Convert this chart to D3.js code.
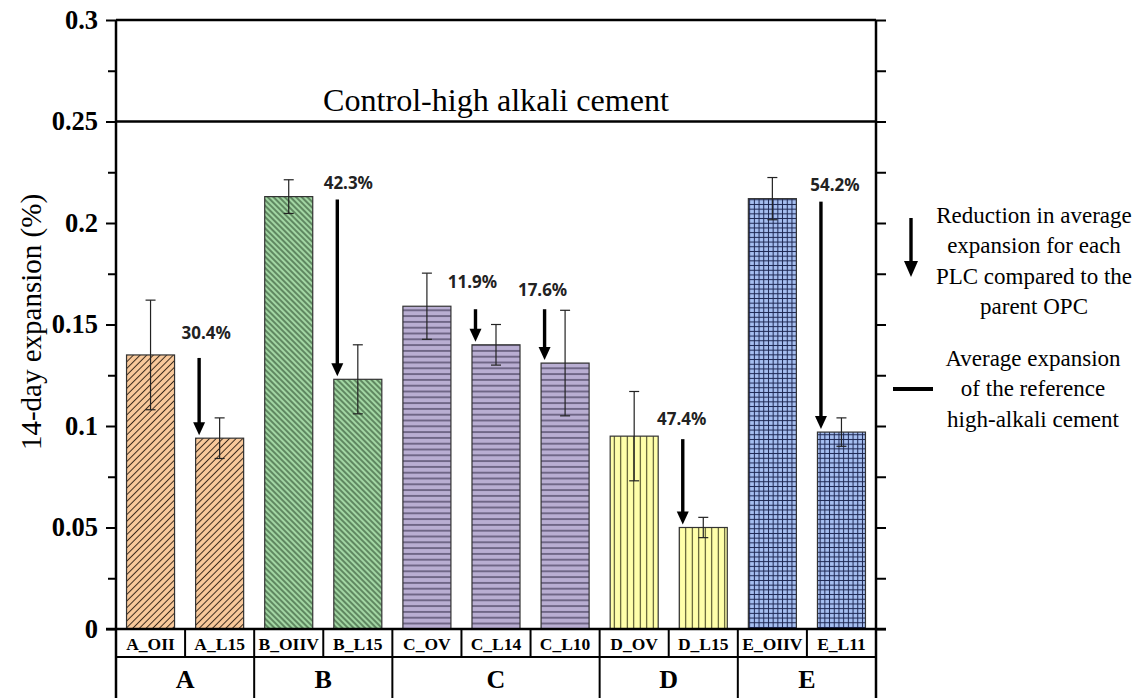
<!DOCTYPE html>
<html>
<head>
<meta charset="utf-8">
<script src="https://cdn.jsdelivr.net/npm/d3@7"></script>
<style>
  body { margin: 0; background: #fff; }
  svg { display: block; }
  svg text { font-family: 'Liberation Serif', 'DejaVu Serif', serif; }
  svg text.pct { font-family: 'Noto Sans', 'DejaVu Sans', sans-serif; }
</style>
</head>
<body>
<div id="chart"></div>
<script>
"use strict";

// data
const samples = ['A_OII', 'A_L15', 'B_OIIV', 'B_L15', 'C_OV', 'C_L14', 'C_L10', 'D_OV', 'D_L15', 'E_OIIV', 'E_L11'];
const groupOf = ['A', 'A', 'B', 'B', 'C', 'C', 'C', 'D', 'D', 'E', 'E'];
const groups = ['A', 'B', 'C', 'D', 'E'];
const means = [0.135, 0.094, 0.213, 0.123, 0.159, 0.140, 0.131, 0.095, 0.050, 0.212, 0.097];
const errors = [0.027, 0.010, 0.0083, 0.017, 0.0163, 0.010, 0.026, 0.022, 0.005, 0.0104, 0.007];
const controlValue = 0.25;
const controlLabel = 'Control-high alkali cement';
const yTicks = [0, 0.05, 0.1, 0.15, 0.2, 0.25, 0.3];
const yTickLabels = ['0', '0.05', '0.1', '0.15', '0.2', '0.25', '0.3'];
const yMinorTicks = [0.025, 0.075, 0.125, 0.175, 0.225, 0.275];
const reductionFrom = ['A_OII', 'B_OIIV', 'C_OV', 'C_OV', 'D_OV', 'E_OIIV'];
const reductionTo = ['A_L15', 'B_L15', 'C_L14', 'C_L10', 'D_L15', 'E_L11'];
const reductionLabels = ['30.4%', '42.3%', '11.9%', '17.6%', '47.4%', '54.2%'];
const legendArrowText = ['Reduction in average', 'expansion for each', 'PLC compared to the', 'parent OPC'];
const legendLineText = ['Average expansion', 'of the reference', 'high-alkali cement'];

// layout
const W = 1146, H = 698;
const plotLeft = 116, plotRight = 876, plotTop = 20, zeroY = 629, rowY = 657;
// label nudges relative to each arrow [dx, dy]
const labelNudge = [[7, -25], [11, -17], [-3, -28], [-2, -20], [-1, -21], [14, -17]];

const fills = { A: '#f9c99b', B: '#a2d6a3', C: '#b9aed2', D: '#ffffaa', E: '#a6bff1' };
const inks = { A: '#3b2a1c', B: '#1d3a1f', C: '#2a2340', D: '#3a3a1a', E: '#1b2550' };

let svg = d3.select('#chart').append('svg')
  .attr('width', W)
  .attr('height', H);

let x = d3.scaleBand()
  .domain(samples)
  .range([plotLeft, plotRight])
  .paddingInner(0.305)
  .paddingOuter(0.1525);

let y = d3.scaleLinear()
  .domain([0, 0.3])
  .range([zeroY, plotTop]);

// hatch patterns
let defs = svg.append('defs');

function hatch(id, group, size, angle, grid) {
  let p = defs.append('pattern')
    .attr('id', id)
    .attr('patternUnits', 'userSpaceOnUse')
    .attr('width', size)
    .attr('height', size)
    .attr('patternTransform', 'rotate(' + angle + ')');
  p.append('rect')
    .attr('width', size)
    .attr('height', size)
    .attr('fill', fills[group]);
  p.append('line')
    .attr('x1', size / 2).attr('x2', size / 2)
    .attr('y1', 0).attr('y2', size)
    .attr('stroke', inks[group])
    .attr('stroke-width', 1);
  if (grid) {
    p.append('line')
      .attr('y1', size / 2).attr('y2', size / 2)
      .attr('x1', 0).attr('x2', size)
      .attr('stroke', inks[group])
      .attr('stroke-width', 1);
  }
}

hatch('pat-A', 'A', 4.7, 45, false);
hatch('pat-B', 'B', 4.0, -45, false);
hatch('pat-C', 'C', 5.8, 90, false);
hatch('pat-D', 'D', 6.5, 0, false);
hatch('pat-E', 'E', 4.7, 0, true);

// bars
let barData = samples.map((s, i) => ({ name: s, group: groupOf[i], mean: means[i], err: errors[i] }));

svg.append('g')
  .selectAll('rect')
  .data(barData)
  .join('rect')
  .attr('x', d => x(d.name))
  .attr('y', d => y(d.mean))
  .attr('width', x.bandwidth())
  .attr('height', d => y(0) - y(d.mean))
  .attr('fill', d => 'url(#pat-' + d.group + ')')
  .attr('stroke', '#333')
  .attr('stroke-width', 1.2);

// error bars
let eb = svg.append('g')
  .attr('stroke', '#222')
  .attr('stroke-width', 1.2);

barData.forEach(d => {
  let cx = x(d.name) + x.bandwidth() / 2;
  eb.append('line')
    .attr('x1', cx).attr('x2', cx)
    .attr('y1', y(d.mean + d.err)).attr('y2', y(d.mean - d.err));
  [d.mean + d.err, d.mean - d.err].forEach(v => {
    eb.append('line')
      .attr('x1', cx - 5).attr('x2', cx + 5)
      .attr('y1', y(v)).attr('y2', y(v));
  });
});

// arrows
function arrow(g, ax, y1, y2, lw, headW, headH) {
  g.append('line')
    .attr('x1', ax).attr('x2', ax)
    .attr('y1', y1).attr('y2', y2 - headH + 1)
    .attr('stroke', '#000')
    .attr('stroke-width', lw);
  g.append('path')
    .attr('d', 'M' + (ax - headW / 2) + ',' + (y2 - headH) + 'L' + (ax + headW / 2) + ',' + (y2 - headH) + 'L' + ax + ',' + y2 + 'Z')
    .attr('fill', '#000');
}

let ann = svg.append('g');
reductionTo.forEach((to, i) => {
  let from = reductionFrom[i];
  let ax = x(to) + 3.5;
  let yTop = y(means[samples.indexOf(from)]) + 3;
  let yTip = y(means[samples.indexOf(to)]) - 3;
  arrow(ann, ax, yTop, yTip, 3.4, 12, 13);
  ann.append('text')
    .attr('class', 'pct')
    .attr('x', ax + labelNudge[i][0])
    .attr('y', yTop + labelNudge[i][1])
    .attr('text-anchor', 'middle')
    .attr('dominant-baseline', 'central')
    .attr('font-weight', 'bold')
    .attr('font-size', 17)
    .attr('fill', '#222')
    .text(reductionLabels[i]);
});

// control line and label
svg.append('line')
  .attr('x1', plotLeft).attr('x2', plotRight)
  .attr('y1', y(controlValue)).attr('y2', y(controlValue))
  .attr('stroke', '#000')
  .attr('stroke-width', 2.5);

svg.append('text')
  .attr('x', (plotLeft + plotRight) / 2)
  .attr('y', 100)
  .attr('text-anchor', 'middle')
  .attr('dominant-baseline', 'central')
  .attr('font-size', 31)
  .attr('textLength', 346)
  .attr('lengthAdjust', 'spacingAndGlyphs')
  .text(controlLabel);

// axes
let yAxis = svg.append('g')
  .attr('transform', 'translate(' + plotLeft + ',0)')
  .call(d3.axisLeft(y).tickValues(yTicks).tickSize(10).tickPadding(8)
    .tickFormat((d, i) => yTickLabels[i]));
yAxis.attr('font-family', null);
yAxis.select('.domain').remove();
yAxis.selectAll('line').attr('stroke-width', 2);
yAxis.selectAll('text')
  .attr('font-weight', 'bold')
  .attr('font-size', 26.5)
  .attr('fill', '#000');

let yMinor = svg.append('g')
  .attr('transform', 'translate(' + plotLeft + ',0)')
  .call(d3.axisLeft(y).tickValues(yMinorTicks).tickSize(8).tickFormat(''));
yMinor.select('.domain').remove();
yMinor.selectAll('line').attr('stroke-width', 2);

let yRight = svg.append('g')
  .attr('transform', 'translate(' + plotRight + ',0)')
  .call(d3.axisRight(y).tickValues(yTicks.concat(yMinorTicks)).tickSize(10).tickFormat(''));
yRight.select('.domain').remove();
yRight.selectAll('line').attr('stroke-width', 2);

// frame and category table
let frame = svg.append('g')
  .attr('stroke', '#000')
  .attr('fill', 'none');

frame.append('line').attr('x1', plotLeft).attr('x2', plotRight).attr('y1', plotTop).attr('y2', plotTop).attr('stroke-width', 2.5);
frame.append('line').attr('x1', plotLeft).attr('x2', plotLeft).attr('y1', plotTop).attr('y2', H).attr('stroke-width', 2.5);
frame.append('line').attr('x1', plotRight).attr('x2', plotRight).attr('y1', plotTop).attr('y2', H).attr('stroke-width', 2.5);
frame.append('line').attr('x1', plotLeft - 10).attr('x2', plotRight + 10).attr('y1', zeroY).attr('y2', zeroY).attr('stroke-width', 2.5);
frame.append('line').attr('x1', plotLeft).attr('x2', plotRight).attr('y1', rowY).attr('y2', rowY).attr('stroke-width', 2.2);

let half = x.step() * x.paddingInner() / 2;
samples.slice(1).forEach(s => {
  frame.append('line')
    .attr('x1', x(s) - half).attr('x2', x(s) - half)
    .attr('y1', zeroY).attr('y2', rowY)
    .attr('stroke-width', 2);
});

let groupSpans = groups.map(g => {
  let members = samples.filter((s, i) => groupOf[i] === g);
  return { g: g, x0: x(members[0]) - half, x1: x(members[members.length - 1]) + x.bandwidth() + half };
});

groupSpans.slice(1).forEach(d => {
  frame.append('line')
    .attr('x1', d.x0).attr('x2', d.x0)
    .attr('y1', rowY).attr('y2', H)
    .attr('stroke-width', 2);
});

svg.append('g')
  .selectAll('text')
  .data(samples)
  .join('text')
  .attr('x', d => x(d) + x.bandwidth() / 2)
  .attr('y', (zeroY + rowY) / 2 + 1)
  .attr('text-anchor', 'middle')
  .attr('dominant-baseline', 'central')
  .attr('font-weight', 'bold')
  .attr('font-size', 17.5)
  .text(d => d);

svg.append('g')
  .selectAll('text')
  .data(groupSpans)
  .join('text')
  .attr('x', d => (d.x0 + d.x1) / 2)
  .attr('y', 679)
  .attr('text-anchor', 'middle')
  .attr('dominant-baseline', 'central')
  .attr('font-weight', 'bold')
  .attr('font-size', 26)
  .text(d => d.g);

// y title
svg.append('text')
  .attr('transform', 'translate(31,' + 322 + ') rotate(-90)')
  .attr('text-anchor', 'middle')
  .attr('dominant-baseline', 'central')
  .attr('font-size', 29)
  .text('14-day expansion (%)');

// legend
let lg = svg.append('g');
arrow(lg, 911, 218, 277, 3.4, 14, 16);
lg.append('text')
  .attr('font-size', 23)
  .attr('text-anchor', 'middle')
  .selectAll('tspan')
  .data(legendArrowText)
  .join('tspan')
  .attr('x', 1034)
  .attr('y', (d, i) => 215 + i * 30.5)
  .attr('dominant-baseline', 'central')
  .text(d => d);

lg.append('line')
  .attr('x1', 893).attr('x2', 933)
  .attr('y1', 389).attr('y2', 389)
  .attr('stroke', '#000')
  .attr('stroke-width', 4);
lg.append('text')
  .attr('font-size', 23)
  .attr('text-anchor', 'middle')
  .selectAll('tspan')
  .data(legendLineText)
  .join('tspan')
  .attr('x', 1033)
  .attr('y', (d, i) => 358 + i * 30.5)
  .attr('dominant-baseline', 'central')
  .text(d => d);
</script>
</body>
</html>
